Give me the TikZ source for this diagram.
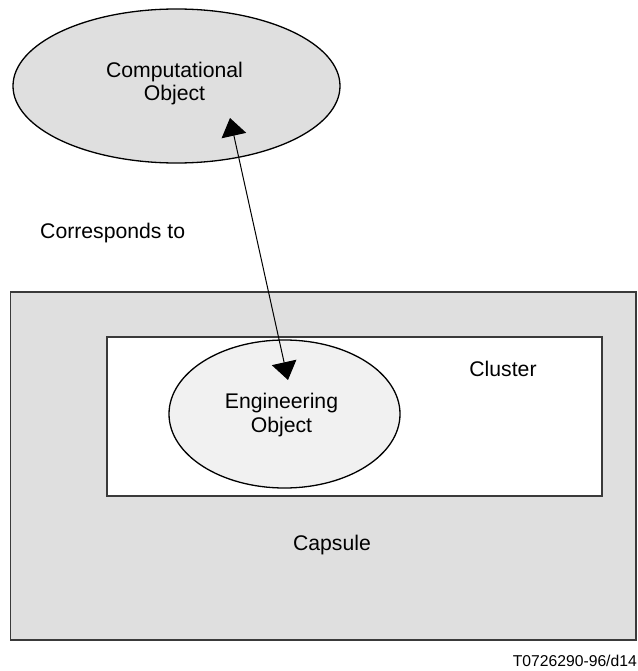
\documentclass[tikz,border=0pt]{standalone}
\usepackage{fontspec}
\setmainfont{Liberation Sans}
\usetikzlibrary{arrows.meta,shapes.geometric}
\definecolor{capgray}{HTML}{DFDFDF}
\definecolor{eogray}{HTML}{F1F1F1}
\definecolor{edgegray}{HTML}{3A3A3A}
\begin{document}
\begin{tikzpicture}[x=1pt,y=-1pt,
  lbl/.style={font=\fontsize{21.2}{23.5}\selectfont, align=center, inner sep=0pt},
  obj/.style={draw=black, line width=1.3pt, ellipse, inner sep=0pt},
  boxstyle/.style={draw=edgegray, line width=1.3pt},
  link/.style={line width=1pt, {Triangle[length=18pt,width=25pt]}-{Triangle[length=18pt,width=25pt]}}]
\useasboundingbox (0,0) rectangle (637,671);
% Capsule
\draw[boxstyle, fill=capgray] (10.5,292) rectangle (636,640);
% Cluster
\draw[boxstyle, fill=white] (107,337) rectangle (602,496);
% Computational object ellipse
\node[obj, fill=capgray, minimum width=327pt, minimum height=154pt] (co) at (176.5,86) {};
\node[lbl] (cot) at (174.5,83.5) {Computational\\Object};
% Engineering object ellipse
\node[obj, fill=eogray, minimum width=231pt, minimum height=148pt] (eo) at (284.5,414) {};
\node[lbl] (eot) at (281.5,415) {Engineering\\Object};
% Labels
\node[lbl, anchor=west] (corr) at (40,233) {Corresponds to};
\node[lbl] (clu) at (503,369) {Cluster};
\node[lbl] (cap) at (332,545) {Capsule};
\node[font=\fontsize{15.7}{18}\selectfont, inner sep=0pt, anchor=east] (ref) at (637,661) {T0726290-96/d14};
% Arrow
\coordinate (a1) at (230,118);
\coordinate (a2) at (288,380);
\draw[link] (a1) -- (a2);
\end{tikzpicture}
\end{document}
